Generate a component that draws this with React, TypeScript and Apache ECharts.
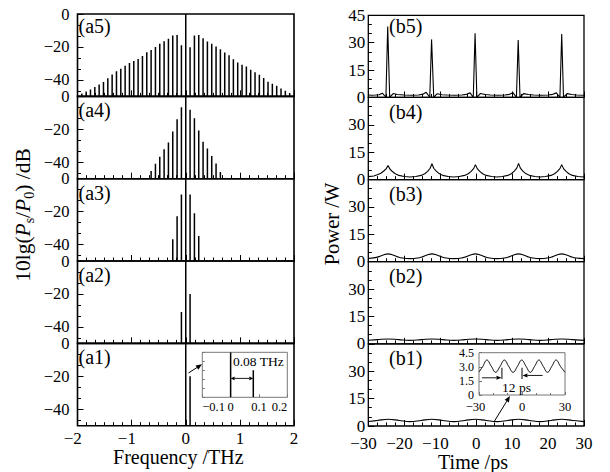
import React, { useEffect, useRef } from 'react';
import * as echarts from 'echarts';

const FONT = 'Liberation Serif';
const N = null;

// ---------- spectra (left column) ----------
const combFreqs = [
  -1.92, -1.84, -1.76, -1.68, -1.6, -1.52, -1.44, -1.36, -1.28, -1.2, -1.12, -1.04,
  -0.96, -0.88, -0.8, -0.72, -0.64, -0.56, -0.48, -0.4, -0.32, -0.24, -0.16, -0.08,
  0,
  0.08, 0.16, 0.24, 0.32, 0.4, 0.48, 0.56, 0.64, 0.72, 0.8, 0.88, 0.96, 1.04,
  1.12, 1.2, 1.28, 1.36, 1.44, 1.52, 1.6, 1.68, 1.76, 1.84, 1.92,
];

const a5Spectrum = [
  -48.3, -47, -45.8, -44.3, -42.8, -41.3, -39, -36.8, -34.8, -33.2, -31.5, -29.8,
  -28.5, -27.3, -25.5, -23.3, -21.8, -20, -18, -16.5, -15, -13, -12.7, -19,
  0,
  -20.2, -13.1, -12.7, -14.7, -16.7, -18.1, -19.8, -21.4, -23.4, -25, -27.5, -29.5,
  -30.8, -31.9, -33.9, -35.3, -36.9, -38.9, -41.1, -42.3, -43.5, -45.2, -46.6, -48,
];
const a4Spectrum = [
  N, N, N, N, N, N, N, N, N, N, N, N, N, N, N, N,
  -45.3, -41, -36.7, -32.2, -28, -21.4, -13.9, -6.7,
  0,
  -8.2, -13.3, -20.8, -27.6, -31.6, -36.3, -40.8, -45.9,
  N, N, N, N, N, N, N, N, N, N, N, N, N, N, N, N,
];
const a3Spectrum = [
  N, N, N, N, N, N, N, N, N, N, N, N, N, N, N, N, N, N, N, N, N,
  -36.8, -22.8, -9.6,
  0,
  -9.6, -21, -34.8,
  N, N, N, N, N, N, N, N, N, N, N, N, N, N, N, N, N, N, N, N, N,
];
const a2Spectrum = [
  N, N, N, N, N, N, N, N, N, N, N, N, N, N, N, N, N, N, N, N, N, N, N,
  -31,
  0,
  -20,
  N, N, N, N, N, N, N, N, N, N, N, N, N, N, N, N, N, N, N, N, N, N, N,
];
const a1Spectrum = [
  N, N, N, N, N, N, N, N, N, N, N, N, N, N, N, N, N, N, N, N, N, N, N, N,
  0,
  -20,
  N, N, N, N, N, N, N, N, N, N, N, N, N, N, N, N, N, N, N, N, N, N, N,
];
const spectra = [a5Spectrum, a4Spectrum, a3Spectrum, a2Spectrum, a1Spectrum];
const aLabels = ['(a5)', '(a4)', '(a3)', '(a2)', '(a1)'];

const dbMajorTicks = [0, -20, -40];
const dbMinorTicks = [-6.667, -13.333, -26.667, -33.333, -46.667];

// ---------- time traces (right column) [t (ps), P (W)] ----------
const b5Trace = [
  [-30, 1.3], [-29, 1.2], [-28, 1.3], [-27, 1.5], [-26.1, 2.3], [-25.1, 0.1], [-24.6, 38.8], [-24.05, 0.1],
  [-23.0, 2.2], [-22, 1.6], [-20, 1.3], [-18, 1.2], [-16, 1.3], [-14.8, 1.8], [-13.9, 2.8], [-12.9, 0.1],
  [-12.4, 31.8], [-11.8, 0.1], [-10.9, 2.0], [-9.5, 1.5], [-8, 1.3], [-6, 1.2], [-4, 1.3], [-2.7, 1.7],
  [-1.7, 2.5], [-0.8, 0.1], [-0.3, 35.1], [0.2, 0.1], [1.2, 2.2], [2.5, 1.6], [4, 1.3], [6, 1.2],
  [8, 1.3], [9.3, 1.7], [10.2, 2.6], [11.2, 0.1], [11.7, 31.4], [12.2, 0.1], [13.2, 2.1], [14.5, 1.6],
  [16, 1.3], [18, 1.2], [20, 1.3], [21.3, 1.7], [22.3, 2.5], [23.3, 0.1], [23.8, 34.7], [24.3, 0.1],
  [25.3, 2.1], [26.6, 1.6], [28, 1.3], [30, 1.2],
];
const b4Trace = [
  [-30, 1.6], [-28.5, 2.0], [-27.5, 2.7], [-26.5, 3.5], [-25.7, 4.7], [-25.0, 6.0], [-24.5, 7.7], [-24.0, 5.8],
  [-23.3, 4.4], [-22.5, 3.2], [-21.5, 2.3], [-20, 1.7], [-18.4, 1.4], [-16.8, 1.7], [-15.3, 2.3], [-14.3, 3.2],
  [-13.5, 4.5], [-12.8, 6.2], [-12.3, 8.7], [-11.8, 6.2], [-11.1, 4.6], [-10.3, 3.3], [-9.3, 2.3], [-7.8, 1.7],
  [-6.3, 1.4], [-4.7, 1.7], [-3.2, 2.3], [-2.2, 3.2], [-1.4, 4.5], [-0.7, 6.0], [-0.2, 8.2], [0.3, 6.0],
  [1.0, 4.5], [1.8, 3.2], [2.8, 2.3], [4.3, 1.7], [5.8, 1.4], [7.3, 1.7], [8.8, 2.3], [9.8, 3.2],
  [10.6, 4.6], [11.3, 6.3], [11.8, 8.9], [12.3, 6.3], [13.0, 4.6], [13.8, 3.3], [14.8, 2.3], [16.3, 1.7],
  [17.8, 1.4], [19.3, 1.7], [20.8, 2.3], [21.8, 3.2], [22.6, 4.5], [23.3, 6.0], [23.8, 8.2], [24.3, 6.0],
  [25.0, 4.5], [25.8, 3.2], [26.8, 2.3], [28.3, 1.7], [30, 1.4],
];
const b3Trace = [
  [-30, 1.8], [-28.5, 2.1], [-27, 2.8], [-25.8, 3.7], [-24.5, 4.3], [-23.2, 3.7], [-22, 2.8], [-20.5, 2.0],
  [-18.4, 1.7], [-16.3, 2.0], [-14.8, 2.8], [-13.6, 3.7], [-12.3, 4.3], [-11, 3.7], [-9.8, 2.8], [-8.3, 2.0],
  [-6.2, 1.7], [-4.1, 2.0], [-2.7, 2.8], [-1.5, 3.7], [-0.2, 4.3], [1.1, 3.7], [2.3, 2.8], [3.8, 2.0],
  [5.8, 1.7], [7.8, 2.0], [9.3, 2.8], [10.5, 3.7], [11.8, 4.3], [13.1, 3.7], [14.3, 2.8], [15.8, 2.0],
  [17.8, 1.7], [19.8, 2.0], [21.3, 2.8], [22.5, 3.7], [23.8, 4.3], [25.1, 3.7], [26.3, 2.8], [27.8, 2.0],
  [30, 1.7],
];
const b2Trace = [
  [-30, 2.0], [-27.5, 2.3], [-24.5, 2.7], [-21.5, 2.3], [-18.4, 1.9], [-15.3, 2.3], [-12.3, 2.7], [-9.3, 2.3],
  [-6.2, 1.9], [-3.2, 2.3], [-0.2, 2.7], [2.8, 2.3], [5.8, 1.9], [8.8, 2.3], [11.8, 2.7], [14.8, 2.3],
  [17.8, 1.9], [20.8, 2.3], [23.8, 2.7], [26.8, 2.3], [30, 1.9],
];
const b1Trace = [
  [-30, 2.45], [-27.5, 3.0], [-24.5, 3.72], [-21.4, 3.05], [-18.4, 2.41], [-15.3, 3.05], [-12.3, 3.72],
  [-9.3, 3.05], [-6.2, 2.41], [-3.2, 3.05], [-0.2, 3.72], [2.8, 3.05], [5.8, 2.41], [8.8, 3.05],
  [11.8, 3.72], [14.8, 3.05], [17.8, 2.41], [20.8, 3.05], [23.8, 3.72], [26.8, 3.05], [30, 2.41],
];
const traces = [b5Trace, b4Trace, b3Trace, b2Trace, b1Trace];
const traceSmooth = [false, false, 0.4, 0.4, 0.4];
const bLabels = ['(b5)', '(b4)', '(b3)', '(b2)', '(b1)'];

// ---------- annotations (data coordinates) ----------
const a1ArrowFrom = [0.05, -18];
const a1ArrowTo = [0.3, -12.7];
const a1InsetSpanFrom = [0, -29];
const a1InsetSpanTo = [0.08, -29];
const a1InsetText = '0.08 THz';
const a1InsetTextAt = [0.008, -10.5];
const b1ArrowFrom = [5, 2.4];
const b1ArrowTo = [9.4, 16.4];
const b1InsetMarkT = [-14, 0];
const b1InsetMarkP = [1.7, 2.9];
const b1InsetLeftArrow = [[-27.9, 1.83], [-14.3, 1.83]];
const b1InsetRightArrow = [[14.4, 2.08], [0.3, 2.08]];
const b1InsetText = '12 ps';
const b1InsetTextAt = [-3.8, 0.85];

// ---------- layout ----------
const L = { left: 77.5, width: 216.5, top: 14, h: 82.34 };
const R = { left: 368.3, width: 215.7, top: 15.3, h: 82.14 };

const tickStyle = { color: '#000', width: 1 };

function numStr(v: number) {
  const a = Math.abs(v);
  return Number.isInteger(Math.round(a * 1000) / 1000) ? String(Math.round(a)) : String(Math.round(a * 100) / 100);
}
function richNeg(fs: number) {
  return {
    n: { fontFamily: FONT, fontSize: fs, color: '#000', padding: [0, fs * 0.564, 0, 0] },
    p: { fontFamily: FONT, fontSize: fs, color: '#000' },
  };
}
function fmtCentered(v: number) {
  if (Math.abs(v) < 1e-9) return '{p|0}';
  return v < 0 ? `{n|\u2212${numStr(v)}}` : `{p|${numStr(v)}}`;
}
const hiddenLine = { show: false, onZero: false };

function buildOption() {
  const grid: any[] = [];
  const xAxis: any[] = [];
  const yAxis: any[] = [];
  const series: any[] = [];

  // left column
  for (let i = 0; i < 5; i++) {
    grid.push({
      left: L.left, top: L.top + i * L.h, width: L.width, height: L.h,
      show: true, borderColor: '#000', borderWidth: 1.6, backgroundColor: 'transparent',
    });
    xAxis.push({
      type: 'value', gridIndex: i, min: -2, max: 2, interval: 1, position: 'bottom',
      axisLine: hiddenLine,
      axisTick: { show: true, inside: true, length: 6, lineStyle: tickStyle },
      minorTick: { show: true, splitNumber: 6, length: 3.5, lineStyle: tickStyle },
      splitLine: { show: false }, minorSplitLine: { show: false },
      axisLabel: {
        show: i === 4, margin: 4, formatter: fmtCentered, rich: richNeg(17),
        fontFamily: FONT, fontSize: 17, color: '#000',
        showMinLabel: true, showMaxLabel: true,
      },
    });
    yAxis.push({
      type: 'value', gridIndex: i, min: -50, max: 0, position: 'left',
      axisLine: hiddenLine,
      axisTick: { show: true, inside: true, length: 6, lineStyle: tickStyle, customValues: dbMajorTicks },
      axisLabel: {
        color: '#000', fontFamily: FONT, fontSize: 16.5, margin: 8, lineHeight: 15, customValues: dbMajorTicks,
        formatter: (v: number) => (v < 0 ? '\u2212' + -v : '0'),
      },
      splitLine: { show: false },
    });
    yAxis.push({
      type: 'value', gridIndex: i, min: -50, max: 0, position: 'left', offset: 0,
      axisLine: hiddenLine,
      axisTick: { show: true, inside: true, length: 3.5, lineStyle: tickStyle, customValues: dbMinorTicks },
      axisLabel: { show: false },
      splitLine: { show: false },
    });
  }
  // right column
  for (let j = 0; j < 5; j++) {
    grid.push({
      left: R.left, top: R.top + j * R.h, width: R.width, height: R.h,
      show: true, borderColor: '#000', borderWidth: 1.3, backgroundColor: 'transparent',
    });
    xAxis.push({
      type: 'value', gridIndex: 5 + j, min: -30, max: 30, interval: 10, position: 'bottom',
      axisLine: hiddenLine,
      axisTick: { show: true, inside: true, length: 6, lineStyle: tickStyle },
      minorTick: { show: true, splitNumber: 4, length: 3.5, lineStyle: tickStyle },
      splitLine: { show: false }, minorSplitLine: { show: false },
      axisLabel: {
        show: j === 4, margin: 8.5, formatter: fmtCentered, rich: richNeg(17),
        fontFamily: FONT, fontSize: 17, color: '#000',
        showMinLabel: true, showMaxLabel: true,
      },
    });
    yAxis.push({
      type: 'value', gridIndex: 5 + j, min: 0, max: 45, interval: 15, position: 'left',
      axisLine: hiddenLine,
      axisTick: { show: true, inside: true, length: 6, lineStyle: tickStyle },
      minorTick: { show: true, splitNumber: 3, length: 3.5, lineStyle: tickStyle },
      splitLine: { show: false }, minorSplitLine: { show: false },
      axisLabel: {
        color: '#000', fontFamily: FONT, fontSize: 17, margin: 3, lineHeight: 13,
        showMinLabel: true, showMaxLabel: true,
        formatter: (v: number) => (v === 45 && j !== 0 ? '' : String(v)),
      },
    });
  }
  // inset a1 (grid 10)
  grid.push({
    left: 202.3, top: 352.3, width: 85, height: 45,
    show: true, borderColor: '#777', borderWidth: 1, backgroundColor: '#fff',
  });
  xAxis.push({
    type: 'value', gridIndex: 10, min: -0.1, max: 0.2, interval: 0.1, position: 'bottom',
    axisLine: hiddenLine,
    axisTick: { show: true, inside: true, length: 3, lineStyle: { color: '#777', width: 1 } },
    splitLine: { show: false },
    axisLabel: {
      color: '#000', fontFamily: FONT, fontSize: 12.5, margin: 3,
      showMinLabel: true, showMaxLabel: true, alignMinLabel: 'left', alignMaxLabel: 'right',
      formatter: (v: number) => (Math.abs(v) < 1e-9 ? '0' : (v < 0 ? '\u2212' : '') + Math.abs(v).toFixed(1)),
    },
  });
  yAxis.push({
    type: 'value', gridIndex: 10, min: -50, max: 0, interval: 10, position: 'left',
    axisLine: hiddenLine,
    axisTick: { show: true, inside: true, length: 2.5, lineStyle: { color: '#777', width: 1 } },
    axisLabel: { show: false }, splitLine: { show: false },
  });
  // inset b1 (grid 11)
  grid.push({
    left: 479, top: 352.7, width: 86, height: 42.3,
    show: true, borderColor: '#777', borderWidth: 1, backgroundColor: '#fff',
  });
  xAxis.push({
    type: 'value', gridIndex: 11, min: -30, max: 30, interval: 30, position: 'bottom',
    axisLine: hiddenLine,
    axisTick: { show: true, inside: true, length: 3, lineStyle: { color: '#777', width: 1 } },
    minorTick: { show: true, splitNumber: 3, length: 2, lineStyle: { color: '#777', width: 1 } },
    splitLine: { show: false }, minorSplitLine: { show: false },
    axisLabel: {
      margin: 5, formatter: fmtCentered, rich: richNeg(12.5), fontFamily: FONT, fontSize: 12.5, color: '#000',
      showMinLabel: true, showMaxLabel: true,
    },
  });
  yAxis.push({
    type: 'value', gridIndex: 11, min: 0, max: 4.5, interval: 1.5, position: 'left',
    axisLine: hiddenLine,
    axisTick: { show: true, inside: true, length: 3, lineStyle: { color: '#777', width: 1 } },
    splitLine: { show: false },
    axisLabel: {
      color: '#000', fontFamily: FONT, fontSize: 12, margin: 5, lineHeight: 11,
      showMinLabel: true, showMaxLabel: true,
      formatter: (v: number) => (v === 0 ? '0' : v.toFixed(1)),
    },
  });

  const stem = (params: any, api: any) => {
    const f = api.value(0);
    const v = api.value(1);
    const p0 = api.coord([f, -50]);
    const p1 = api.coord([f, v]);
    return {
      type: 'line',
      shape: { x1: p0[0], y1: p0[1], x2: p1[0], y2: p1[1] },
      style: { stroke: '#000', lineWidth: 1.5 },
    };
  };
  const toPoints = (arr: (number | null)[]) =>
    combFreqs.map((f, k) => [f, arr[k]]).filter((d) => d[1] !== null);

  spectra.forEach((arr, i) => {
    series.push({
      type: 'custom', xAxisIndex: i, yAxisIndex: 2 * i, renderItem: stem,
      data: toPoints(arr), clip: true, silent: true,
    });
  });
  series.push({
    type: 'custom', xAxisIndex: 10, yAxisIndex: 15, renderItem: stem,
    data: toPoints(a1Spectrum), clip: true, silent: true, z: 5,
  });
  traces.forEach((tr, j) => {
    series.push({
      type: 'line', xAxisIndex: 5 + j, yAxisIndex: 10 + j, data: tr,
      symbol: 'none', smooth: traceSmooth[j], silent: true,
      lineStyle: { color: '#000', width: 1.1 },
    });
  });
  series.push({
    type: 'line', xAxisIndex: 11, yAxisIndex: 16, data: b1Trace,
    symbol: 'none', smooth: 0.4, silent: true, z: 5,
    lineStyle: { color: '#000', width: 1 },
  });

  return { animation: false, backgroundColor: '#fff', textStyle: { fontFamily: FONT }, grid, xAxis, yAxis, series };
}

function arrow(p0: number[], p1: number[], head: number, hw: number, lw = 1, color = '#000') {
  const dx = p1[0] - p0[0];
  const dy = p1[1] - p0[1];
  const len = Math.hypot(dx, dy) || 1;
  const ux = dx / len;
  const uy = dy / len;
  const bx = p1[0] - ux * head;
  const by = p1[1] - uy * head;
  return [
    { type: 'line', z: 50, shape: { x1: p0[0], y1: p0[1], x2: bx, y2: by }, style: { stroke: color, lineWidth: lw } },
    {
      type: 'polygon', z: 50,
      shape: { points: [[p1[0], p1[1]], [bx - uy * hw, by + ux * hw], [bx + uy * hw, by - ux * hw]] },
      style: { fill: color },
    },
  ];
}

function buildGraphics(chart: any) {
  const P = (xi: number, yi: number, pt: number[]) =>
    chart.convertToPixel({ xAxisIndex: xi, yAxisIndex: yi }, pt) as number[];
  const g: any[] = [];
  const txt = (text: string, x: number, y: number, fs: number, extra: any = {}) => ({
    type: 'text', z: 60, x, y, rotation: extra.rotation || 0,
    style: {
      text, fill: '#000', fontFamily: FONT, fontSize: fs,
      align: extra.align || 'center', verticalAlign: 'middle', rich: extra.rich,
    },
  });

  // panel labels
  aLabels.forEach((s, i) => g.push(txt(s, 78.5, L.top + i * L.h + (i === 0 ? 11.5 : 14), 20, { align: 'left' })));
  bLabels.forEach((s, j) => g.push(txt(s, 389, R.top + j * R.h + (j === 0 ? 10.5 : 14.5), 20, { align: 'left' })));

  // axis titles
  g.push(txt('Frequency /THz', 178.3, 457, 20));
  g.push(txt('Time /ps', 473, 462, 20));
  g.push(txt('Power /W', 331.5, 224, 20.5, { rotation: Math.PI / 2 }));
  g.push(
    txt('{t|10lg(}{i|P}{s|s}{t|/}{i|P}{s|0}{t|) /dB}', 23, 215, 21.5, {
      rotation: Math.PI / 2,
      rich: {
        t: { fontFamily: FONT, fontSize: 21.5, lineHeight: 26, fill: '#000', color: '#000' },
        i: { fontFamily: FONT, fontSize: 21.5, lineHeight: 26, fontStyle: 'italic', fill: '#000', color: '#000' },
        s: { fontFamily: FONT, fontSize: 14, lineHeight: 14, verticalAlign: 'bottom', fill: '#000', color: '#000' },
      },
    }),
  );

  // a1 annotations
  g.push(...arrow(P(4, 8, a1ArrowFrom), P(4, 8, a1ArrowTo), 6, 2.5, 1));
  const sA = P(10, 15, a1InsetSpanFrom);
  const sB = P(10, 15, a1InsetSpanTo);
  const mid = [(sA[0] + sB[0]) / 2, sA[1]];
  g.push(...arrow(mid, sA, 4, 1.8, 0.9));
  g.push(...arrow(mid, sB, 4, 1.8, 0.9));
  const tA = P(10, 15, a1InsetTextAt);
  g.push(txt(a1InsetText, tA[0], tA[1], 13.5, { align: 'left' }));

  // b1 annotations
  g.push(...arrow(P(9, 14, b1ArrowFrom), P(9, 14, b1ArrowTo), 6, 2.5, 1));
  b1InsetMarkT.forEach((t) => {
    const p0 = P(11, 16, [t, b1InsetMarkP[0]]);
    const p1 = P(11, 16, [t, b1InsetMarkP[1]]);
    g.push({ type: 'line', z: 50, shape: { x1: p0[0], y1: p0[1], x2: p1[0], y2: p1[1] }, style: { stroke: '#000', lineWidth: 1 } });
  });
  g.push(...arrow(P(11, 16, b1InsetLeftArrow[0]), P(11, 16, b1InsetLeftArrow[1]), 5, 2, 0.9));
  g.push(...arrow(P(11, 16, b1InsetRightArrow[0]), P(11, 16, b1InsetRightArrow[1]), 5, 2, 0.9));
  const tB = P(11, 16, b1InsetTextAt);
  g.push(txt(b1InsetText, tB[0], tB[1], 13.5));

  return g;
}

export default function App() {
  const ref = useRef<HTMLDivElement>(null);
  useEffect(() => {
    const chart = echarts.init(ref.current as HTMLDivElement, null, { renderer: 'svg' });
    chart.setOption(buildOption() as any);
    chart.setOption({ graphic: buildGraphics(chart) } as any);
    return () => chart.dispose();
  }, []);
  return (
    <div
      ref={ref}
      style={{ position: 'fixed', left: 0, top: 0, width: 610, height: 472, background: '#fff' }}
    />
  );
}
